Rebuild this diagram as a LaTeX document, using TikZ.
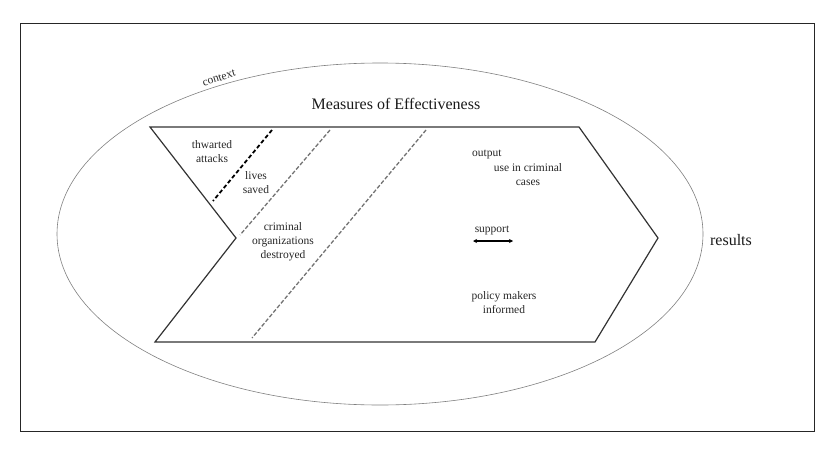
\documentclass[tikz,border=0pt]{standalone}
\usepackage{fontspec}
\setmainfont{Liberation Serif}
\usetikzlibrary{arrows.meta}
\begin{document}
\begin{tikzpicture}[x=1pt,y=-1pt,
  lbl/.style={font=\fontsize{11.5}{14}\selectfont, text=black!85, align=center, inner sep=0pt},
  big/.style={font=\fontsize{16}{19}\selectfont, text=black!90, inner sep=0pt},
  chev/.style={draw=black!80, line width=1.2pt, line join=miter},
  darkdash/.style={draw=black, line width=1.8pt, dash pattern=on 4pt off 2.5pt},
  greydash/.style={draw=black!55, line width=1.3pt, dash pattern=on 4pt off 2pt},
  ctx/.style={draw=black!50, line width=0.6pt}
]
\useasboundingbox (0,0) rectangle (834,452);
\draw[black!85, line width=1pt] (20,24) rectangle (814,431);
\draw[ctx] (380,234) ellipse [x radius=323, y radius=171];
\node[lbl, rotate=18] (context) at (219,78) {context};
\node[big] (moe) at (396,104) {Measures of Effectiveness};
\node[big] (results) at (731,240) {results};

\coordinate (tl) at (150,127);
\coordinate (tr) at (579,127);
\coordinate (tip) at (658,238);
\coordinate (br) at (595,342);
\coordinate (bl) at (155,342);
\coordinate (notch) at (236,238);
\draw[chev] (tl) -- (tr) -- (tip) -- (br) -- (bl) -- (notch) -- cycle;

\coordinate (d1a) at (272,130); \coordinate (d1b) at (213,201);
\coordinate (d2a) at (330,130); \coordinate (d2b) at (240,235);
\coordinate (d3a) at (426,130); \coordinate (d3b) at (252,338);
\draw[darkdash] (d1a) -- (d1b);
\draw[greydash] (d2a) -- (d2b);
\draw[greydash] (d3a) -- (d3b);

\node[lbl] (thw) at (212,152) {thwarted\\attacks};
\node[lbl] (lives) at (256,183) {lives\\saved};
\node[lbl] (crim) at (283,242) {criminal\\organizations\\destroyed};
\node[lbl, anchor=west] (out) at (472,154) {output};
\node[lbl] (use) at (528,175) {use in criminal\\cases};
\node[lbl] (sup) at (492,230) {support};
\coordinate (sa) at (473,241);
\coordinate (sb) at (513,241);
\draw[black, line width=1.3pt, {Stealth[length=4pt,width=4pt]}-{Stealth[length=4pt,width=4pt]}] (sa) -- (sb);
\node[lbl] (pol) at (504,303) {policy makers\\informed};
\end{tikzpicture}
\end{document}
